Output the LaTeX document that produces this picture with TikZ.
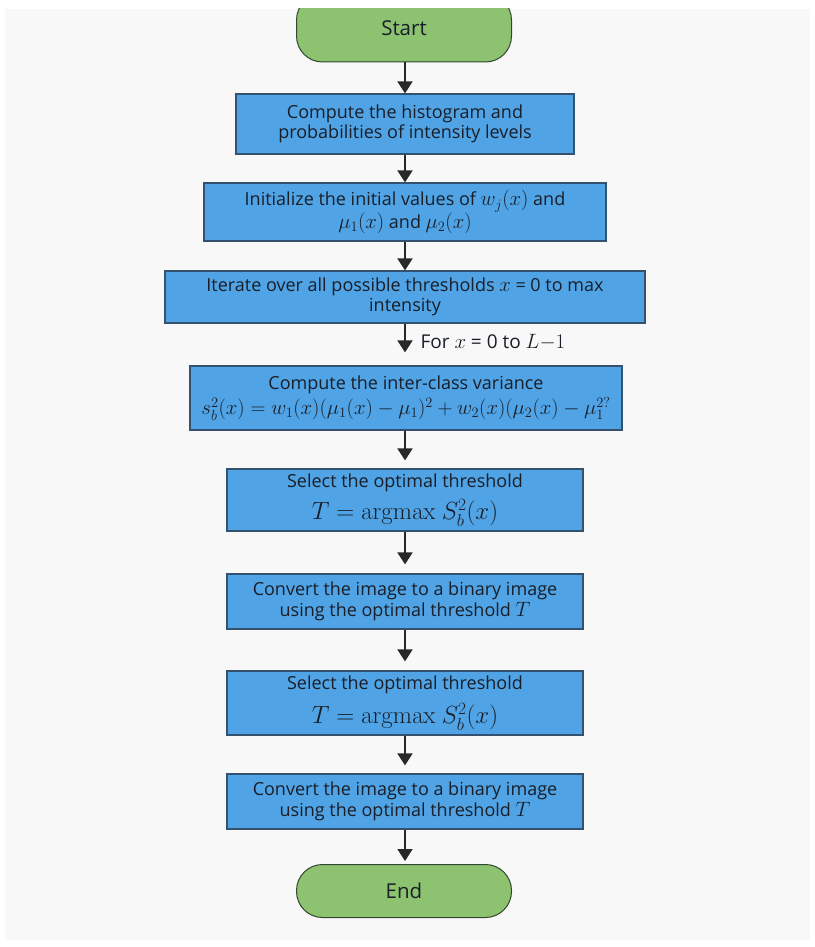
\documentclass[tikz,border=0pt]{standalone}
\usepackage{amsmath}
\usepackage[no-math]{fontspec}
\setmainfont{Open Sans}
\usetikzlibrary{arrows.meta, positioning}
\definecolor{boxblue}{RGB}{80,163,228}
\definecolor{boxline}{RGB}{52,82,110}
\definecolor{termgreen}{RGB}{140,194,112}
\definecolor{termline}{RGB}{50,72,45}
\definecolor{arrowgray}{RGB}{40,40,40}
\definecolor{bggray}{RGB}{248,248,248}
\definecolor{textdark}{RGB}{25,30,40}
% larger math to sit with the sans text
\newcommand{\mth}[1]{{\fontsize{21}{20.5}\selectfont$#1$}}
\newcommand{\mthbig}[1]{{\fontsize{24}{24}\selectfont$#1$}}

\begin{document}
\begin{tikzpicture}[x=1pt, y=-1pt,
    terminal/.style={rectangle, draw=termline, fill=termgreen, rounded corners=26pt, minimum width=215pt, minimum height=53pt, line width=1pt, text=textdark, font=\fontsize{20.5}{24}\selectfont},
    stepbox/.style={rectangle, draw=boxline, fill=boxblue, line width=1.2pt, align=center, inner sep=2pt, text=textdark, font=\fontsize{18}{20.5}\selectfont},
    arrow/.style={-{Triangle[width=15pt,length=12pt]}, line width=1.8pt, draw=arrowgray},
    lbl/.style={font=\fontsize{19}{22}\selectfont, text=textdark, anchor=west}
]
    % Background
    \fill[white] (0,0) rectangle (814,947);
    \fill[bggray] (5,9) rectangle (810,940);
    \useasboundingbox (0,0) rectangle (814,947);

    % Start (top cut off)
    \begin{scope}
        \clip (0,9) rectangle (814,947);
        \node[terminal, minimum height=68pt] (start) at (404,28) {Start};
    \end{scope}

    % Steps
    \node[stepbox, minimum width=338pt, minimum height=60pt] (hist) at (405,124) {Compute the histogram and\\probabilities of intensity levels};
    \node[stepbox, minimum width=402pt, minimum height=58pt] (init) at (405,212) {Initialize the initial values of \mth{w_j(x)} and\\\mth{\mu_1(x)} and \mth{\mu_2(x)}};
    \node[stepbox, minimum width=480pt, minimum height=52pt] (iter) at (405,297) {Iterate over all possible thresholds \mth{x} = 0 to max\\intensity};
    \node[stepbox, minimum width=432pt, minimum height=64pt] (var) at (406,398) {Compute the inter-class variance\\[3pt]\mth{s_b^2(x) = w_1(x)(\mu_1(x) - \mu_1)^2 + w_2(x)(\mu_2(x) - \mu_1^{2?}}};
    \node[stepbox, minimum width=356pt, minimum height=62pt] (sel1) at (405,500) {Select the optimal threshold\\[7pt]\mthbig{T = \mathrm{argmax}\ S_b^2(x)}};
    \node[stepbox, minimum width=356pt, minimum height=55pt] (bin1) at (405,601.5) {Convert the image to a binary image\\using the optimal threshold \mth{T}};
    \node[stepbox, minimum width=356pt, minimum height=64pt] (sel2) at (405,703) {Select the optimal threshold\\[8pt]\mthbig{T = \mathrm{argmax}\ S_b^2(x)}};
    \node[stepbox, minimum width=356pt, minimum height=55pt] (bin2) at (405,801.5) {Convert the image to a binary image\\using the optimal threshold \mth{T}};

    % End
    \node[terminal] (end) at (404,891) {End};

    % Arrows
    \draw[arrow] (start.south -| hist.north) -- (hist.north);
    \draw[arrow] (hist) -- (init);
    \draw[arrow] (init) -- (iter);
    \draw[arrow, shorten >=13pt] (iter) -- (iter |- var.north);
    \draw[arrow, shorten >=8pt] (var.south -| iter.south) -- (iter.south |- sel1.north);
    \draw[arrow, shorten >=9pt] (sel1) -- (bin1);
    \draw[arrow, shorten >=9pt] (bin1) -- (sel2);
    \draw[arrow, shorten >=8pt] (sel2) -- (bin2);
    \draw[arrow, shorten >=3pt] (bin2) -- (bin2 |- end.north);

    % Loop label
    \node[lbl] (loop) at (417,342) {For \mth{x} = 0 to \mth{L{-}1}};
\end{tikzpicture}
\end{document}
